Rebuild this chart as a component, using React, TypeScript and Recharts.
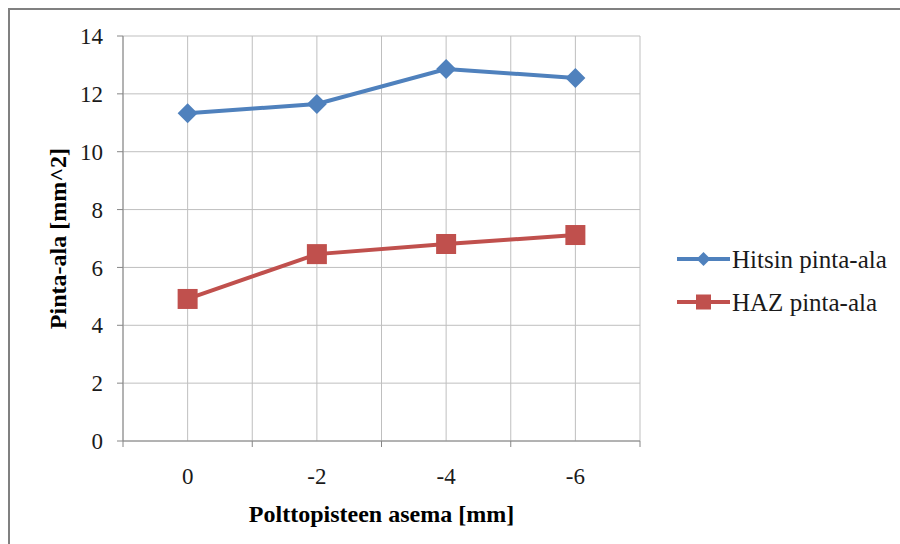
import { LineChart, Line, XAxis, YAxis, CartesianGrid, Legend } from 'recharts'

const positions = ['0', '-2', '-4', '-6']
const hitsinArea = [11.33, 11.65, 12.86, 12.55]
const hazArea = [4.91, 6.46, 6.81, 7.12]
const yTicks = [0, 2, 4, 6, 8, 10, 12, 14]

const BLUE = '#4F81BD'
const RED = '#C0504D'
const FONT = '"Liberation Serif", "Times New Roman", serif'

const data = positions.map((p, i) => ({
  idx: i,
  label: p,
  hitsin: hitsinArea[i],
  haz: hazArea[i],
}))

// half steps give the gridlines between categories (Excel style)
const xTicks: number[] = []
for (let i = -1; i < positions.length; i++) {
  xTicks.push(i + 0.5)
  if (i + 1 < positions.length) xTicks.push(i + 1)
}

function diamond(cx: number, cy: number, r: number) {
  return `M${cx},${cy - r} L${cx + r},${cy} L${cx},${cy + r} L${cx - r},${cy} Z`
}

const DiamondDot = (props: any) => {
  const { cx, cy, index } = props
  return <path key={`d-${index}`} d={diamond(cx, cy, 10)} fill={BLUE} />
}

const SquareDot = (props: any) => {
  const { cx, cy, index } = props
  return <rect key={`s-${index}`} x={cx - 10} y={cy - 10} width={20} height={20} fill={RED} />
}

const XTick = (props: any) => {
  const { x, y, payload } = props
  const v = payload.value as number
  if (!Number.isInteger(v)) {
    return <line x1={x} y1={y} x2={x} y2={y + 6} stroke="#868686" />
  }
  return (
    <text x={x} y={y + 35} textAnchor="middle" dominantBaseline="central" fontSize={23} fontFamily={FONT} fill="#1a1a1a">
      {positions[v]}
    </text>
  )
}

const LegendBox = () => (
  <svg width={230} height={90} style={{ display: 'block' }}>
    <line x1={7} y1={23} x2={60} y2={23} stroke={BLUE} strokeWidth={4} />
    <path d={diamond(33.5, 23, 7)} fill={BLUE} />
    <text x={62} y={23} dominantBaseline="central" fontSize={25} fontFamily={FONT} fill="#1a1a1a">
      Hitsin pinta-ala
    </text>
    <line x1={7} y1={66} x2={60} y2={66} stroke={RED} strokeWidth={4} />
    <rect x={26} y={58.5} width={15} height={15} fill={RED} />
    <text x={62} y={66} dominantBaseline="central" fontSize={25} fontFamily={FONT} fill="#1a1a1a">
      HAZ pinta-ala
    </text>
  </svg>
)

export default function App() {
  return (
    <div
      style={{
        position: 'fixed',
        left: 8,
        top: 8,
        width: 920,
        height: 560,
        borderTop: '2px solid #808080',
        borderLeft: '2px solid #808080',
        fontFamily: FONT,
        background: '#fff',
      }}
    >
      <LineChart width={880} height={520} data={data} margin={{ top: 26, right: 20, left: 0, bottom: 0 }}>
        <CartesianGrid stroke="#BFBFBF" strokeWidth={1} />
        <XAxis
          dataKey="idx"
          type="number"
          domain={[-0.5, positions.length - 0.5]}
          ticks={xTicks}
          interval={0}
          height={89}
          tickSize={0}
          tickMargin={0}
          tickLine={false}
          tick={<XTick />}
          axisLine={{ stroke: '#868686' }}
          label={(p: any) => {
            const vb = p.viewBox
            return (
              <text x={vb.x + vb.width / 2} y={vb.y + 73} textAnchor="middle" dominantBaseline="central" fontSize={24} fontWeight="bold" fontFamily={FONT} fill="#000">
                Polttopisteen asema [mm]
              </text>
            )
          }}
        />
        <YAxis
          domain={[0, 14]}
          ticks={yTicks}
          interval={0}
          width={113}
          tickSize={6}
          tickMargin={14}
          tickLine={{ stroke: '#868686' }}
          axisLine={{ stroke: '#868686' }}
          tick={{ fontSize: 23, fontFamily: FONT, fill: '#1a1a1a' }}
          label={(p: any) => {
            const vb = p.viewBox
            const cy = vb.y + vb.height / 2
            return (
              <text x={48} y={cy} transform={`rotate(-90, 48, ${cy})`} textAnchor="middle" dominantBaseline="central" fontSize={24} fontWeight="bold" fontFamily={FONT} fill="#000">
                Pinta-ala [mm^2]
              </text>
            )
          }}
        />
        <Legend
          layout="vertical"
          align="right"
          verticalAlign="middle"
          content={<LegendBox />}
          wrapperStyle={{ left: 660, top: 226, width: 230, height: 90 }}
        />
        <Line dataKey="hitsin" name="Hitsin pinta-ala" stroke={BLUE} strokeWidth={4} dot={DiamondDot} activeDot={false} isAnimationActive={false} />
        <Line dataKey="haz" name="HAZ pinta-ala" stroke={RED} strokeWidth={4} dot={SquareDot} activeDot={false} isAnimationActive={false} />
      </LineChart>
    </div>
  )
}
